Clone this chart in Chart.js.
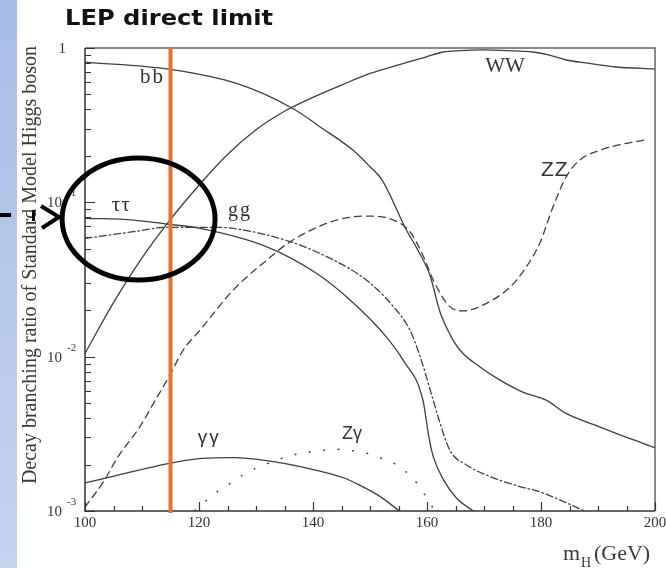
<!DOCTYPE html>
<html>
<head>
<meta charset="utf-8">
<script src="https://cdn.jsdelivr.net/npm/chart.js@4.4.0/dist/chart.umd.min.js"></script>
<style>
  html, body { margin: 0; padding: 0; background: #fff; }
  canvas { display: block; }
</style>
</head>
<body>
<canvas id="chart" width="666" height="568"></canvas>
<script>
// Branching ratios of the Standard Model Higgs boson against its mass (GeV)
const massBB = [100, 114.9, 126.6, 136.4, 141.2, 147.0, 150.0, 152.1, 156.4, 158.4, 160.5, 162.3, 164.0, 165.8, 169.3, 172.8, 176.8, 180.9, 184.4, 190.3, 194.7, 200];
const brBB   = [0.81, 0.728, 0.59, 0.407, 0.309, 0.218, 0.170, 0.140, 0.066, 0.049, 0.0338, 0.0194, 0.0140, 0.0110, 0.00857, 0.00705, 0.0059, 0.00523, 0.00429, 0.00351, 0.00303, 0.00257];

const massWW = [100, 105, 110, 115, 120, 125, 130, 135, 140, 145, 150, 155.0, 159.8, 162.8, 166.0, 169.8, 174.0, 178.6, 181.5, 184.4, 187.9, 193.2, 200];
const brWW   = [0.0105, 0.0224, 0.0437, 0.0776, 0.129, 0.204, 0.295, 0.389, 0.479, 0.575, 0.684, 0.776, 0.874, 0.942, 0.962, 0.971, 0.962, 0.942, 0.90, 0.836, 0.80, 0.753, 0.731];

const massTT = [100, 108.5, 114.3, 120.2, 131.9, 140.6, 146.5, 152.3, 155.8, 159.3, 160.3, 161.1, 162.9, 165.2, 168.1];
const brTT   = [0.0788, 0.0768, 0.0723, 0.0678, 0.0515, 0.0347, 0.0233, 0.0142, 0.0095, 0.0052, 0.00306, 0.00225, 0.00159, 0.00121, 0.00100];

const massGG = [100, 108.5, 114.3, 122.5, 126.0, 136.0, 143.6, 149.4, 154.1, 157.0, 158.8, 161.1, 162.3, 164.0, 167.0, 171.1, 176.3, 179.8, 183.3, 187.4];
const brGG   = [0.0584, 0.0645, 0.0689, 0.0689, 0.0678, 0.0556, 0.0423, 0.0313, 0.0211, 0.0149, 0.0100, 0.0052, 0.0037, 0.00248, 0.00198, 0.00167, 0.00144, 0.00133, 0.00118, 0.00101];

const massZZ = [100, 103.2, 105.8, 109.6, 112.3, 114.9, 117.2, 120.2, 126.0, 131.9, 136.0, 143.6, 149.4, 154.1, 157.0, 159.4, 161.1, 164.0, 166.5, 169.8, 174.6, 177.4, 179.8, 182.1, 184.4, 186.8, 190.4, 198.8];
const brZZ   = [0.00106, 0.00154, 0.00225, 0.0035, 0.0052, 0.0076, 0.0110, 0.0149, 0.0270, 0.0423, 0.0556, 0.0757, 0.0815, 0.0768, 0.0645, 0.0444, 0.0313, 0.0211, 0.0198, 0.0216, 0.0283, 0.0381, 0.0545, 0.0932, 0.146, 0.188, 0.218, 0.257];

const massAA = [100, 105.8, 114.6, 120.5, 126.3, 132.2, 138.0, 145.6, 148.2, 151.8, 155.0];
const brAA   = [0.00152, 0.00171, 0.00203, 0.00219, 0.00222, 0.00211, 0.00193, 0.00163, 0.00147, 0.00124, 0.00101];

const massZA = [119.3, 121.4, 123.4, 125.6, 127.8, 130.2, 132.8, 135.4, 138.3, 141.2, 143.9, 146.8, 149.6, 152.2, 154.8, 156.8, 158.5, 159.8, 161.1];
const brZA   = [0.00101, 0.00118, 0.00135, 0.00152, 0.00172, 0.00191, 0.00208, 0.00225, 0.00238, 0.00246, 0.00251, 0.00246, 0.00236, 0.00218, 0.00198, 0.00173, 0.00147, 0.00124, 0.00104];

// Axis ticks
const xTickValues = [100, 120, 140, 160, 180, 200];
const yTickValues = [1, 0.1, 0.01, 0.001];
const yTickExponents = ['', '-1', '-2', '-3'];

// LEP direct search lower limit on the Higgs mass (GeV)
const LEP_LIMIT = 115;

// Channel names written next to their curves, anchored in data units
const channelNames = ['bb', 'WW', 'ZZ', 'ττ', 'gg', 'γγ', 'Zγ'];
const nameMass     = [109.65, 170.2, 180.0, 104.7, 125.1, 119.8, 145.1];
const nameBR       = [0.593, 0.699, 0.148, 0.0878, 0.0815, 0.00275, 0.00292];
const nameFont     = ['21px "Liberation Serif"', '21px "Liberation Serif"', '21px "Liberation Sans"',
                      '21px "Liberation Serif"', '20px "Liberation Serif"', '19px "Liberation Sans"', '18px "Liberation Sans"'];
const nameSpacing  = [2, 0, 1, 1, 2, 2, 0];

const curveColor = '#3f3f3f';

function pairs(xs, ys) { return xs.map((x, i) => ({ x: x, y: ys[i] })); }

function curve(xs, ys, dash, width) {
  return {
    data: pairs(xs, ys),
    borderColor: curveColor,
    borderWidth: width || 1.3,
    borderDash: dash || [],
    borderCapStyle: 'round',
    pointRadius: 0,
    fill: false,
    cubicInterpolationMode: 'monotone'
  };
}

const decor = {
  id: 'decor',
  beforeDraw(chart) {
    const ctx = chart.ctx;
    ctx.save();
    ctx.fillStyle = '#fff';
    ctx.fillRect(0, 0, chart.width, chart.height);
    const g = ctx.createLinearGradient(0, 0, 0, chart.height);
    g.addColorStop(0, '#a6bde6');
    g.addColorStop(1, '#c5d3ef');
    ctx.fillStyle = g;
    ctx.fillRect(0, 0, 17, chart.height);
    ctx.restore();
  },
  afterDatasetsDraw(chart) {
    const ctx = chart.ctx;
    const xs = chart.scales.x, ys = chart.scales.y;
    const a = chart.chartArea;
    ctx.save();

    // frame
    ctx.lineWidth = 1.5;
    ctx.strokeStyle = '#666';
    ctx.beginPath();
    ctx.moveTo(a.left, a.top); ctx.lineTo(a.right, a.top); ctx.lineTo(a.right, a.bottom);
    ctx.stroke();
    ctx.strokeStyle = '#333';
    ctx.beginPath();
    ctx.moveTo(a.left, a.top); ctx.lineTo(a.left, a.bottom); ctx.lineTo(a.right, a.bottom);
    ctx.stroke();

    // inward tick marks
    ctx.lineWidth = 1.2;
    ctx.beginPath();
    for (let m = 100; m <= 200; m += 5) {
      const px = Math.round(xs.getPixelForValue(m)) + 0.5;
      const len = (m % 20 === 0) ? 9 : 5;
      ctx.moveTo(px, a.bottom); ctx.lineTo(px, a.bottom - len);
    }
    for (let e = -3; e <= 0; e++) {
      for (let k = 1; k <= 9; k++) {
        const v = k * Math.pow(10, e);
        if (v > 1.0001) break;
        const py = Math.round(ys.getPixelForValue(v)) + 0.5;
        const len = (k === 1) ? 10 : 6;
        ctx.moveTo(a.left, py); ctx.lineTo(a.left + len, py);
      }
    }
    ctx.stroke();

    // tick labels
    ctx.fillStyle = '#333';
    ctx.textBaseline = 'middle';
    ctx.font = '15px "Liberation Serif"';
    ctx.textAlign = 'center';
    xTickValues.forEach(v => ctx.fillText(String(v), xs.getPixelForValue(v), a.bottom + 12));
    yTickValues.forEach((v, i) => {
      const py = ys.getPixelForValue(v);
      ctx.font = '15px "Liberation Serif"';
      ctx.textAlign = 'right';
      if (yTickExponents[i] === '') {
        ctx.fillText('1', 66, py + 1);
      } else {
        ctx.fillText('10', 62, py + 1);
        ctx.font = '11px "Liberation Serif"';
        ctx.textAlign = 'left';
        ctx.fillText(yTickExponents[i], 67, py - 9);
      }
    });

    // channel names
    ctx.fillStyle = '#333';
    ctx.textAlign = 'left';
    ctx.textBaseline = 'alphabetic';
    channelNames.forEach((t, i) => {
      ctx.font = nameFont[i];
      let x = xs.getPixelForValue(nameMass[i]);
      const y = ys.getPixelForValue(nameBR[i]);
      for (const ch of t) {
        ctx.fillText(ch, x, y);
        x += ctx.measureText(ch).width + nameSpacing[i];
      }
    });

    // LEP limit
    const lx = xs.getPixelForValue(LEP_LIMIT);
    ctx.strokeStyle = '#e5722d';
    ctx.lineWidth = 4;
    ctx.beginPath();
    ctx.moveTo(lx, a.top); ctx.lineTo(lx, a.bottom + 2);
    ctx.stroke();

    // highlight ring around the low-mass region
    ctx.strokeStyle = '#000';
    ctx.lineWidth = 5;
    ctx.beginPath();
    ctx.ellipse(xs.getPixelForValue(109.4), ys.getPixelForValue(0.0779), 76.5, 61, 0, 0, Math.PI * 2);
    ctx.stroke();
    ctx.restore();
  },
  afterDraw(chart) {
    const ctx = chart.ctx;
    ctx.save();

    // title
    ctx.fillStyle = '#111';
    ctx.font = 'bold 22px "DejaVu Sans"';
    ctx.textAlign = 'left';
    ctx.textBaseline = 'alphabetic';
    const title = 'LEP direct limit';
    const tw = ctx.measureText(title).width;
    ctx.translate(65, 25);
    ctx.scale(208 / tw, 1);
    ctx.fillText(title, 0, 0);
    ctx.setTransform(1, 0, 0, 1, 0, 0);

    // y-axis title
    ctx.fillStyle = '#3a3a3a';
    ctx.font = '20px "Liberation Serif"';
    ctx.translate(36, 265);
    ctx.rotate(-Math.PI / 2);
    ctx.textAlign = 'center';
    ctx.fillText('Decay branching ratio of Standard Model Higgs boson', 0, 0);
    ctx.setTransform(1, 0, 0, 1, 0, 0);

    // x-axis title: m_H(GeV)
    ctx.textAlign = 'left';
    ctx.font = '22px "Liberation Serif"';
    ctx.fillText('m', 563, 560);
    ctx.font = '14px "Liberation Serif"';
    ctx.fillText('H', 581, 567);
    ctx.font = '22px "Liberation Serif"';
    ctx.fillText('(GeV)', 594, 560);

    // pointer arrow
    ctx.fillStyle = '#000';
    ctx.fillRect(0, 213, 11, 4);
    ctx.fillRect(32, 210, 3, 11);
    ctx.strokeStyle = '#000';
    ctx.lineWidth = 4;
    ctx.lineJoin = 'miter';
    ctx.beginPath();
    ctx.moveTo(41, 206); ctx.lineTo(59, 217); ctx.lineTo(42, 228);
    ctx.stroke();
    ctx.restore();
  }
};

new Chart(document.getElementById('chart'), {
  type: 'line',
  data: {
    datasets: [
      curve(massBB, brBB),
      curve(massWW, brWW),
      curve(massTT, brTT),
      curve(massGG, brGG, [7, 3, 1.5, 3]),
      curve(massZZ, brZZ, [7, 5]),
      curve(massAA, brAA),
      curve(massZA, brZA, [0.5, 14], 1.6)
    ]
  },
  options: {
    responsive: false,
    animation: false,
    devicePixelRatio: 1,
    layout: { padding: { left: 85, top: 48, right: 11, bottom: 57 } },
    plugins: { legend: { display: false }, tooltip: { enabled: false } },
    scales: {
      x: {
        type: 'linear', min: 100, max: 200,
        ticks: { display: false },
        grid: { display: false, drawTicks: false },
        border: { display: false },
        afterFit: s => { s.height = 0; }
      },
      y: {
        type: 'logarithmic', min: 0.001, max: 1,
        ticks: { display: false },
        grid: { display: false, drawTicks: false },
        border: { display: false },
        afterFit: s => { s.width = 0; }
      }
    }
  },
  plugins: [decor]
});
</script>
</body>
</html>
